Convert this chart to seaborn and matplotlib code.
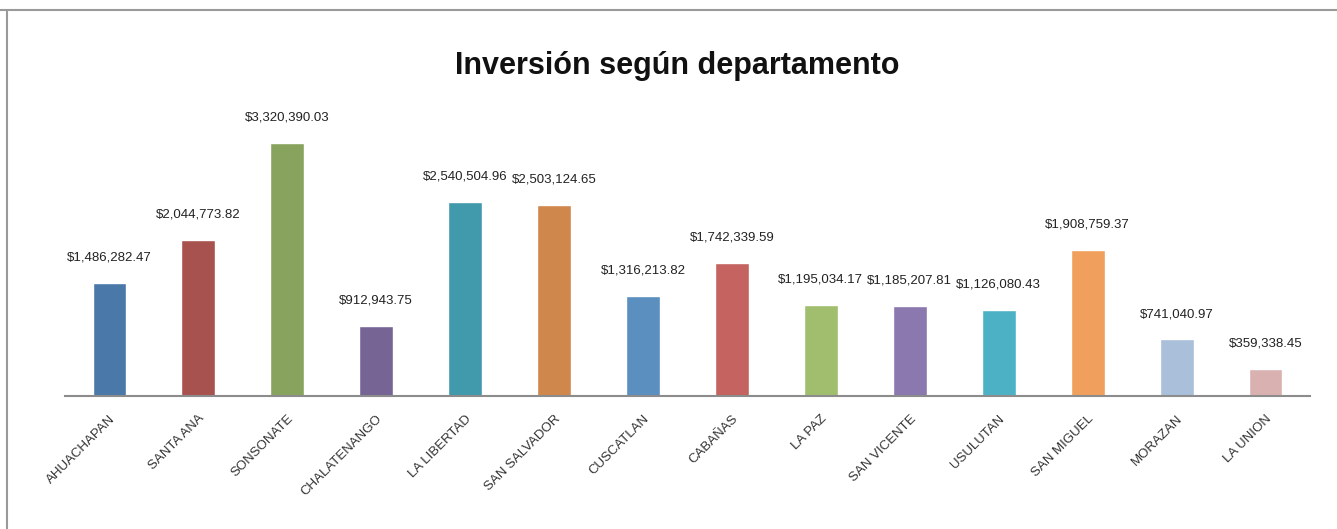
import matplotlib
matplotlib.use("Agg")
import matplotlib.pyplot as plt
from matplotlib.lines import Line2D
import seaborn as sns

# Data
departamentos = ['AHUACHAPAN', 'SANTA ANA', 'SONSONATE', 'CHALATENANGO', 'LA LIBERTAD',
                 'SAN SALVADOR', 'CUSCATLAN', 'CABAÑAS', 'LA PAZ', 'SAN VICENTE',
                 'USULUTAN', 'SAN MIGUEL', 'MORAZAN', 'LA UNION']
inversion = [1486282.47, 2044773.82, 3320390.03, 912943.75, 2540504.96,
             2503124.65, 1316213.82, 1742339.59, 1195034.17, 1185207.81,
             1126080.43, 1908759.37, 741040.97, 359338.45]
colores = ['#4A78A8', '#A8524F', '#88A35D', '#766494', '#4199AC', '#D0874C', '#5A8FC0',
           '#C4635F', '#A0BE6E', '#8A78AE', '#4DB1C6', '#F0A05C', '#AABFDA', '#DAB1B1']

sns.set_style('white')
plt.rcParams['font.family'] = ['Liberation Sans', 'DejaVu Sans']

fig = plt.figure(figsize=(13.37, 5.29), dpi=100)
ax = fig.add_axes([65 / 1337, 1 - 396 / 529, (1310 - 65) / 1337, (396 - 100) / 529])

sns.barplot(x=departamentos, y=inversion, hue=departamentos, palette=colores,
            legend=False, width=0.38, saturation=1, ax=ax)

# value labels above each bar
for cont, val in zip(ax.containers, inversion):
    ax.bar_label(cont, labels=[f'${val:,.2f}'], padding=14, fontsize=9.5, color='#222222')

ax.set_ylim(0, 3.88e6)
ax.set_xlim(-0.5, len(departamentos) - 0.5)
ax.set_yticks([])
ax.set_xlabel('')
ax.set_ylabel('')
for s in ['top', 'right', 'left']:
    ax.spines[s].set_visible(False)
ax.spines['bottom'].set_color('#8C8C8C')
ax.spines['bottom'].set_linewidth(1.5)
ax.tick_params(axis='x', length=0, pad=12)
plt.setp(ax.get_xticklabels(), rotation=45, ha='right', rotation_mode='anchor',
         fontsize=9.5, color='#333333')

fig.suptitle('Inversión según departamento', x=677 / 1337, y=1 - 66 / 529,
             va='center', fontsize=22, fontweight='bold', color='#111111')

# frame lines of the original screenshot
fig.add_artist(Line2D([0, 1], [1 - 10 / 529] * 2, transform=fig.transFigure,
                      color='#9A9A9A', lw=1.5))
fig.add_artist(Line2D([7 / 1337] * 2, [0, 1 - 10 / 529], transform=fig.transFigure,
                      color='#9A9A9A', lw=1.5))

fig.savefig('out.png', dpi=100)
